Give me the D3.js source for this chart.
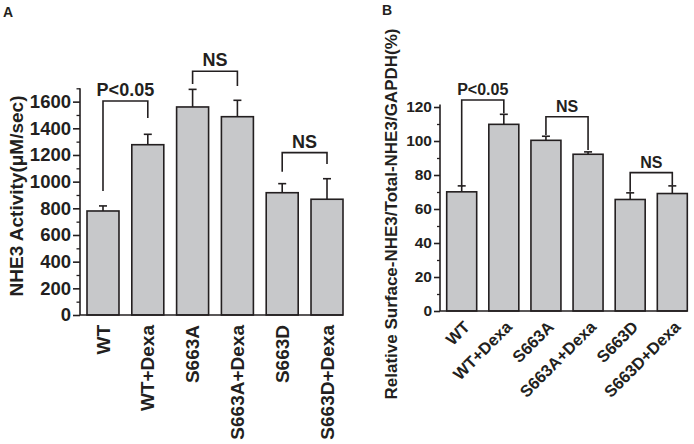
<!DOCTYPE html>
<html><head><meta charset="utf-8">
<script src="https://cdn.jsdelivr.net/npm/d3@7"></script>
<style>
body{margin:0;background:#fff}
text{font-family:"Liberation Sans",Arial,Helvetica,sans-serif;font-weight:bold;fill:#231f20}
</style>
</head><body>
<svg id="chart" width="694" height="444"></svg>
<script>
// ---- data ----
const categories = ["WT", "WT+Dexa", "S663A", "S663A+Dexa", "S663D", "S663D+Dexa"];
const activityMean = [780, 1277, 1560, 1487, 917, 868];
const activityErr = [38, 78, 132, 123, 68, 154];
const surfaceMean = [70.1, 109.8, 100.4, 92.2, 65.6, 69.1];
const surfaceErr = [3.5, 5.9, 2.4, 1.4, 3.9, 4.5];
const activityTicks = [0, 200, 400, 600, 800, 1000, 1200, 1400, 1600];
const activityMinorTicks = [100, 300, 500, 700, 900, 1100, 1300, 1500, 1700];
const surfaceTicks = [0, 20, 40, 60, 80, 100, 120];
const surfaceMinorTicks = [10, 30, 50, 70, 90, 110];
// brackets: [leftIndex, rightIndex, label, topValue, leftLegEnd, rightLegEnd]
const activityBrackets = [
  [0, 1, "P<0.05", 1605, 930, 1478],
  [2, 3, "NS", 1828, 1733, 1718],
  [4, 5, "NS", 1218, 1075, 1133]
];
const surfaceBrackets = [
  [0, 1, "P<0.05", 124.1, 72.9, 116.3],
  [2, 3, "NS", 114.3, 103.5, 94.7],
  [4, 5, "NS", 81.4, 70.2, 74.1]
];

const svg = d3.select("#chart");
const ink = "#231f20";
const barFill = "#c7c8ca";
const FONT = '"Liberation Sans",Arial,Helvetica,sans-serif';

function panel(o) {
  const g = svg.append("g");
  const x = d3.scaleBand().domain(categories).range(o.xRange).paddingInner(o.padIn).paddingOuter(0);
  const y = d3.scaleLinear().domain(o.yDomain).range(o.yRange);

  // bars
  g.selectAll("rect.bar").data(o.mean).join("rect")
    .attr("x", (d, i) => x(categories[i]))
    .attr("y", d => y(d))
    .attr("width", x.bandwidth())
    .attr("height", d => y(0) - y(d))
    .attr("fill", barFill).attr("stroke", ink).attr("stroke-width", 1.6);

  // error bars (upper)
  const cx = i => x(categories[i]) + x.bandwidth() / 2;
  o.mean.forEach((m, i) => {
    g.append("line").attr("x1", cx(i)).attr("x2", cx(i))
      .attr("y1", y(m)).attr("y2", y(m + o.err[i]))
      .attr("stroke", ink).attr("stroke-width", 1.6);
    g.append("line").attr("x1", cx(i) - 4).attr("x2", cx(i) + 4)
      .attr("y1", y(m + o.err[i])).attr("y2", y(m + o.err[i]))
      .attr("stroke", ink).attr("stroke-width", 1.6);
  });

  // y axis
  const ax = g.append("g").attr("transform", `translate(${o.axisX},0)`)
    .call(d3.axisLeft(y).tickValues(o.ticks).tickFormat(d3.format("d"))
      .tickSize(o.tickLen).tickPadding(2).tickSizeOuter(0));
  ax.attr("font-size", null).attr("font-family", null);
  ax.select(".domain").remove();
  ax.selectAll(".tick line").attr("stroke", ink).attr("stroke-width", 1.6);
  ax.selectAll(".tick text").attr("fill", ink)
    .style("font-size", o.tickFont + "px").style("font-family", FONT).style("font-weight", "bold");
  const mn = g.append("g").attr("transform", `translate(${o.axisX},0)`)
    .call(d3.axisLeft(y).tickValues(o.minor).tickSize(o.tickLen / 2).tickFormat(""));
  mn.select(".domain").remove();
  mn.selectAll(".tick line").attr("stroke", ink).attr("stroke-width", 1.3);
  g.append("line").attr("x1", o.axisX).attr("x2", o.axisX)
    .attr("y1", y(0)).attr("y2", y(o.yDomain[1])).attr("stroke", ink).attr("stroke-width", 1.6);
  g.append("line").attr("x1", o.axisX).attr("x2", o.xRange[1])
    .attr("y1", y(0)).attr("y2", y(0)).attr("stroke", ink).attr("stroke-width", 1.6);

  // x labels
  categories.forEach((c, i) => {
    const t = g.append("text").text(c).style("font-size", o.xFont + "px")
      .attr("text-anchor", "end").attr("dy", "0.35em");
    if (o.rotate === -90) {
      t.attr("transform", `translate(${cx(i)},${y(0) + o.xLabelGap}) rotate(-90)`);
    } else {
      t.attr("transform", `translate(${cx(i) + 5},${y(0) + o.xLabelGap}) rotate(-45)`);
    }
  });

  // brackets
  o.brackets.forEach(b => {
    const x1 = cx(b[0]), x2 = cx(b[1]);
    g.append("path")
      .attr("d", `M${x1},${y(b[4])}V${y(b[3])}H${x2}V${y(b[5])}`)
      .attr("fill", "none").attr("stroke", ink).attr("stroke-width", 1.6);
    g.append("text").text(b[2]).attr("x", (x1 + x2) / 2).attr("y", y(b[3]) - o.bracketGap)
      .attr("text-anchor", "middle").style("font-size", o.bracketFont + "px");
  });

  // y title
  g.append("text").text(o.title).style("font-size", o.titleFont + "px")
    .attr("text-anchor", "middle").attr("dy", "0.35em")
    .attr("transform", `translate(${o.titlePos[0]},${o.titlePos[1]}) rotate(-90)`);
  // panel letter
  g.append("text").text(o.letter).attr("x", o.letterPos[0]).attr("y", o.letterPos[1])
    .style("font-size", "14px");
}

panel({
  xRange: [87, 343], padIn: 0.286, yDomain: [0, 1700], yRange: [315, 88.3],
  mean: activityMean, err: activityErr, ticks: activityTicks, minor: activityMinorTicks,
  axisX: 80, tickLen: 7, tickFont: 18.5, xFont: 19, rotate: -90, xLabelGap: 10,
  brackets: activityBrackets, bracketGap: 5, bracketFont: 18,
  title: "NHE3 Activity(\u03bcM/sec)", titleFont: 19, titlePos: [16, 196],
  letter: "A", letterPos: [3, 17]
});

panel({
  xRange: [446.7, 687.3], padIn: 0.288, yDomain: [0, 121.5], yRange: [311, 104.45],
  mean: surfaceMean, err: surfaceErr, ticks: surfaceTicks, minor: surfaceMinorTicks,
  axisX: 440, tickLen: 6, tickFont: 15.5, xFont: 16.5, rotate: -45, xLabelGap: 13,
  brackets: surfaceBrackets, bracketGap: 5, bracketFont: 16,
  title: "Relative Surface-NHE3/Total-NHE3/GAPDH(%)", titleFont: 17, titlePos: [391, 214],
  letter: "B", letterPos: [382, 15]
});
</script>
</body></html>
